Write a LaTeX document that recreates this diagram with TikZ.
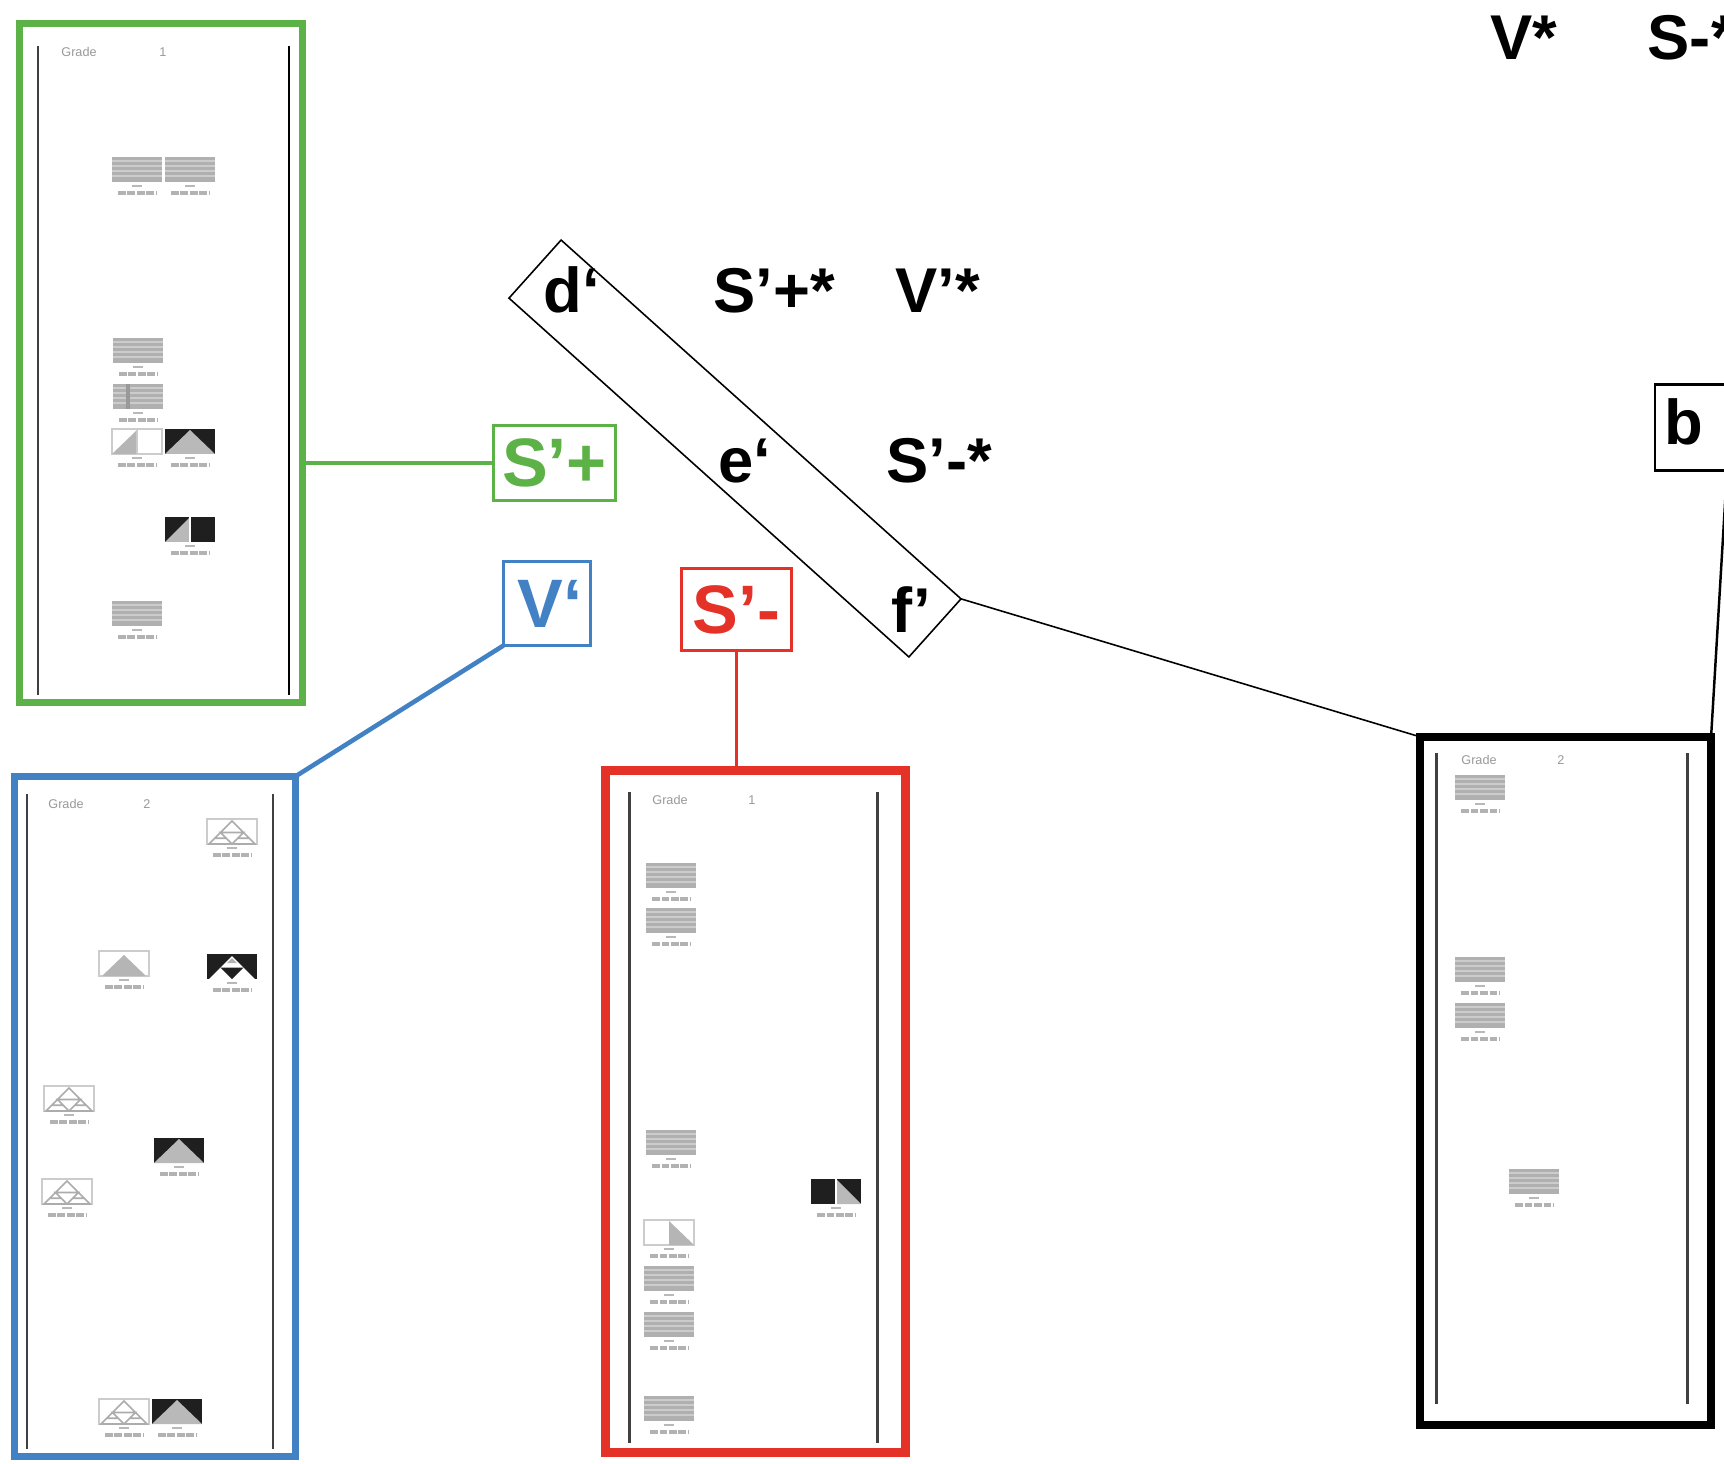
\documentclass[tikz,border=0pt]{standalone}
\usepackage{fontspec}
\setmainfont{Liberation Sans}
\definecolor{grn}{RGB}{92,178,70}
\definecolor{blu}{RGB}{66,130,196}
\definecolor{rd}{RGB}{228,50,40}
\tikzset{
 thlabel/.style={gray!60, line width=1.1pt, dash pattern=on 2.2pt off 0.5pt},
 thtick/.style={gray!55, line width=0.3pt},
 thframe/.style={gray!40, line width=0.3pt},
 thstripe/.pic={
   \fill[gray!62] (0,0) rectangle (50,25);
   \foreach \q in {4,9,14,19} \draw[gray!40, line width=0.35pt] (0,\q) -- (50,\q);
   \draw[thtick] (20,29) -- (30,29);
   \draw[thlabel] (6,36) -- (44,36);
 },
 thblacktri/.pic={
   \fill[black!88] (0,0) rectangle (50,25);
   \fill[gray!55] (0,25) -- (25,1) -- (50,25) -- cycle;
   \draw[thtick] (20,29) -- (30,29);
   \draw[thlabel] (6,36) -- (44,36);
 },
 thwhitetri/.pic={
   \draw[thframe] (0,0) rectangle (50,25);
   \fill[gray!58] (3,25) -- (25,4) -- (47,25) -- cycle;
   \draw[thtick] (20,29) -- (30,29);
   \draw[thlabel] (6,36) -- (44,36);
 },
 thsier/.pic={
   \draw[thframe] (0,0) rectangle (50,25);
   \draw[gray!65, line width=0.45pt] (2,25) -- (25,2) -- (48,25) -- cycle
     (13.5,13.5) -- (36.5,13.5) -- (25,25) -- cycle
     (7.75,19.25) -- (19.25,19.25) (30.75,19.25) -- (42.25,19.25);
   \draw[thtick] (20,29) -- (30,29);
   \draw[thlabel] (6,36) -- (44,36);
 },
 thblacksier/.pic={
   \fill[black!88] (0,0) rectangle (50,25);
   \fill[white] (2,25) -- (25,2) -- (48,25) -- cycle;
   \fill[black!88] (13.5,13.5) -- (36.5,13.5) -- (25,25) -- cycle;
   \fill[gray!60] (25,4) -- (30,9) -- (20,9) -- cycle;
   \draw[thtick] (20,29) -- (30,29);
   \draw[thlabel] (6,36) -- (44,36);
 },
 thcorner/.pic={
   \draw[thframe] (0,0) rectangle (50,25);
   \draw[thframe] (25,0) -- (25,25);
   \fill[gray!58] (0,25) -- (24,2) -- (24,25) -- cycle;
   \draw[thtick] (20,29) -- (30,29);
   \draw[thlabel] (6,36) -- (44,36);
 },
 thblackhalf/.pic={
   \fill[black!88] (0,0) rectangle (50,25);
   \fill[gray!55] (0,25) -- (24,1) -- (24,25) -- cycle;
   \draw[white, line width=0.4pt] (25,0) -- (25,25);
   \draw[thtick] (20,29) -- (30,29);
   \draw[thlabel] (6,36) -- (44,36);
 },
 thblackright/.pic={
   \fill[black!88] (0,0) rectangle (50,25);
   \fill[gray!55] (26,1) -- (50,25) -- (26,25) -- cycle;
   \draw[white, line width=0.4pt] (25,0) -- (25,25);
   \draw[thtick] (20,29) -- (30,29);
   \draw[thlabel] (6,36) -- (44,36);
 },
 thwhiteright/.pic={
   \draw[thframe] (0,0) rectangle (50,25);
   \fill[gray!58] (25,1) -- (50,25) -- (25,25) -- cycle;
   \draw[thtick] (20,29) -- (30,29);
   \draw[thlabel] (6,36) -- (44,36);
 },
 panel/.style={draw, inner sep=0pt, outer sep=0pt},
 tagbox/.style={draw, line width=0.85pt, inner sep=0pt, outer sep=0pt,
   font=\bfseries\fontsize{19.5}{22}\selectfont},
 lbl/.style={font=\bfseries\fontsize{18}{20}\selectfont, inner sep=0pt, anchor=base west},
 rail/.style={black!75, line width=0.85pt},
 gradetxt/.style={font=\fontsize{3.6}{4}\selectfont, text=gray!80, inner sep=0pt}
}
\begin{document}
\begin{tikzpicture}[x=0.01cm, y=-0.01cm]
\clip (0,0) rectangle (1724,1464);
\fill[white] (0,0) rectangle (1724,1464);

% ---------- panels ----------
\node[panel, draw=grn, line width=2pt, minimum width=2.83cm, minimum height=6.79cm] (gpanel) at (161,363) {};
\node[panel, draw=blu, line width=2pt, minimum width=2.81cm, minimum height=6.80cm] (bpanel) at (155,1116.5) {};
\node[panel, draw=rd, line width=2.5pt, minimum width=3.00cm, minimum height=6.82cm] (rpanel) at (755.5,1111.5) {};
\node[panel, draw=black, line width=2.3pt, minimum width=2.91cm, minimum height=6.88cm] (kpanel) at (1565.5,1081) {};

% rails
\draw[rail] (38,46) -- (38,695);  \draw[rail, black] (289,46) -- (289,695);
\draw[rail] (27,794) -- (27,1449); \draw[rail] (273,794) -- (273,1449);
\draw[rail] (629,792) -- (629,1443); \draw[rail] (877,792) -- (877,1443);
\draw[rail] (1436,753) -- (1436,1404); \draw[rail] (1687,753) -- (1687,1404);

% grade headers
\node[gradetxt] (g1a) at (79,52) {Grade};  \node[gradetxt] (g1b) at (163,52) {1};
\node[gradetxt] (g2a) at (66,804) {Grade}; \node[gradetxt] (g2b) at (147,804) {2};
\node[gradetxt] (g3a) at (670,800) {Grade}; \node[gradetxt] (g3b) at (752,800) {1};
\node[gradetxt] (g4a) at (1479,760) {Grade}; \node[gradetxt] (g4b) at (1561,760) {2};

% thumbnails: green panel
\pic at (112,157) {thstripe};
\pic at (165,157) {thstripe};
\pic at (113,338) {thstripe};
\pic at (113,384) {thstripe};
\draw[gray!80, line width=1pt] (128,384) -- (128,409);
\pic at (112,429) {thcorner};
\pic at (165,429) {thblacktri};
\pic at (165,517) {thblackhalf};
\pic at (112,601) {thstripe};

% thumbnails: blue panel
\pic at (207,819) {thsier};
\pic at (99,951) {thwhitetri};
\pic at (207,954) {thblacksier};
\pic at (44,1086) {thsier};
\pic at (154,1138) {thblacktri};
\pic at (42,1179) {thsier};
\pic at (99,1399) {thsier};
\pic at (152,1399) {thblacktri};

% thumbnails: red panel
\pic at (646,863) {thstripe};
\pic at (646,908) {thstripe};
\pic at (646,1130) {thstripe};
\pic at (811,1179) {thblackright};
\pic at (644,1220) {thwhiteright};
\pic at (644,1266) {thstripe};
\pic at (644,1312) {thstripe};
\pic at (644,1396) {thstripe};

% thumbnails: black panel
\pic at (1455,775) {thstripe};
\pic at (1455,957) {thstripe};
\pic at (1455,1003) {thstripe};
\pic at (1509,1169) {thstripe};

% ---------- tag boxes ----------
\node[tagbox, draw=grn, text=grn, minimum width=1.22cm, minimum height=0.75cm] (splus) at (554.5,463) {S’+};
\node[tagbox, draw=blu, text=blu, minimum width=0.87cm, minimum height=0.84cm] (vbox) at (547,603.5) {\hspace*{0.06cm}V‘};
\node[tagbox, draw=rd, text=rd, minimum width=1.10cm, minimum height=0.82cm] (smbox) at (736.5,609.5) {S’-};
\node[draw, line width=0.85pt, inner sep=0pt, outer sep=0pt, minimum width=0.80cm, minimum height=0.85cm] (bbox) at (1695,427.5) {};
\node[lbl] (btxt) at (1664,445) {b};

% rotated frame around d', e', f'
\node[draw, line width=0.45pt, rotate=-41.9, minimum width=5.37cm, minimum height=0.78cm, inner sep=0pt, outer sep=0pt] (rot) at (735,448.5) {};

% ---------- labels ----------
\node[lbl] (dl) at (543,313) {d‘};
\node[lbl] (spstar) at (713,313) {S’+*};
\node[lbl] (vpstar) at (895,313) {V’*};
\node[lbl] (el) at (718,483) {e‘};
\node[lbl] (smstar) at (886,483) {S’-*};
\node[lbl] (fl) at (891,633) {f’};
\node[lbl] (vstar) at (1490,60) {V*};
\node[lbl] (sstar) at (1647,60) {S-*};

% ---------- connectors ----------
\draw[grn, line width=0.9pt] (splus.west) -- (splus.west -| gpanel.east);
\draw[blu, line width=1.3pt] (vbox.south west) -- (bpanel.north east);
\draw[rd, line width=0.9pt] (smbox.south) -- (smbox.south |- rpanel.north);
\draw[black, line width=0.45pt] (rot.north east) -- (kpanel.north west);
\coordinate (offr) at (1727,470);
\draw[black, line width=0.7pt] (offr) -- (kpanel.north east);
\end{tikzpicture}
\end{document}
